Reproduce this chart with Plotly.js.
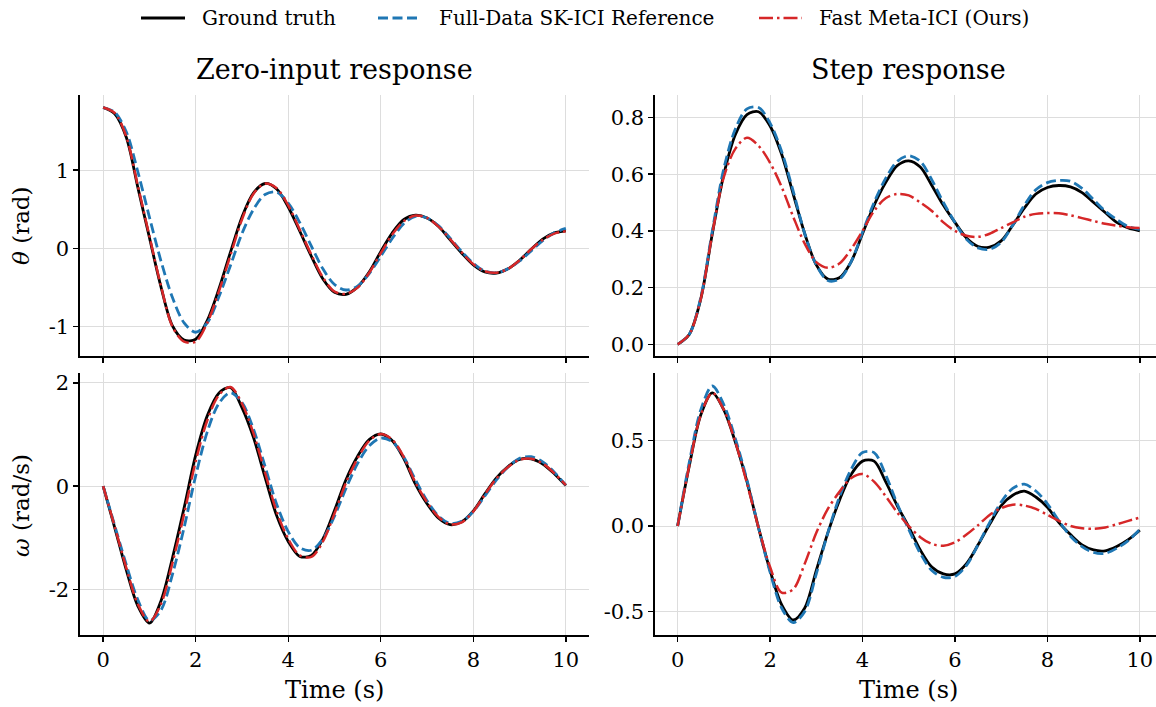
<!DOCTYPE html>
<html>
<head>
<meta charset="utf-8">
<script src="https://cdn.plot.ly/plotly-3.0.1.min.js"></script>
<style>
  html, body { margin: 0; padding: 0; background: #ffffff; }
  #chart { width: 1156px; height: 707px; }
</style>
</head>
<body>
<div id="chart"></div>
<script>
// ---- Data ----
const time = [0,0.25,0.5,0.75,1,1.25,1.5,1.75,2,2.25,2.5,2.75,3,3.25,3.5,3.75,4,4.25,4.5,4.75,5,5.25,5.5,5.75,6,6.25,6.5,6.75,7,7.25,7.5,7.75,8,8.25,8.5,8.75,9,9.25,9.5,9.75,10];

// Zero-input response, theta (rad)
const zeroThetaTruth = [1.80,1.72,1.42,0.78,0.14,-0.49,-0.99,-1.17,-1.16,-0.92,-0.52,-0.05,0.40,0.71,0.83,0.76,0.53,0.22,-0.10,-0.39,-0.56,-0.585,-0.49,-0.30,-0.04,0.20,0.37,0.425,0.39,0.28,0.11,-0.06,-0.21,-0.30,-0.315,-0.26,-0.15,-0.01,0.12,0.20,0.226];
const zeroThetaFull  = [1.80,1.74,1.49,0.98,0.40,-0.16,-0.63,-0.95,-1.07,-0.95,-0.62,-0.22,0.19,0.50,0.69,0.72,0.58,0.33,0.03,-0.26,-0.46,-0.53,-0.48,-0.32,-0.10,0.13,0.32,0.41,0.39,0.29,0.13,-0.04,-0.19,-0.29,-0.31,-0.26,-0.16,-0.03,0.10,0.20,0.256];
const zeroThetaMeta  = [1.80,1.73,1.43,0.80,0.16,-0.48,-1.00,-1.19,-1.19,-0.95,-0.55,-0.09,0.37,0.70,0.83,0.77,0.55,0.24,-0.08,-0.37,-0.55,-0.58,-0.50,-0.31,-0.06,0.18,0.35,0.42,0.39,0.28,0.12,-0.05,-0.20,-0.29,-0.31,-0.26,-0.15,-0.01,0.11,0.19,0.22];

// Zero-input response, omega (rad/s)
const zeroOmegaTruth = [0,-0.80,-1.62,-2.32,-2.65,-2.22,-1.38,-0.42,0.60,1.36,1.80,1.91,1.52,0.94,0.17,-0.57,-1.07,-1.36,-1.34,-1.02,-0.47,0.13,0.58,0.90,1.01,0.88,0.53,0.04,-0.34,-0.62,-0.745,-0.69,-0.48,-0.15,0.16,0.38,0.52,0.53,0.43,0.24,0.01];
const zeroOmegaFull  = [0,-0.76,-1.52,-2.20,-2.60,-2.40,-1.70,-0.80,0.20,1.05,1.60,1.81,1.62,1.10,0.38,-0.35,-0.88,-1.19,-1.24,-1.02,-0.58,-0.04,0.44,0.78,0.93,0.86,0.56,0.12,-0.28,-0.58,-0.72,-0.68,-0.49,-0.19,0.12,0.37,0.54,0.57,0.47,0.27,0.02];
const zeroOmegaMeta  = [0,-0.78,-1.58,-2.28,-2.62,-2.28,-1.48,-0.54,0.48,1.27,1.76,1.92,1.60,1.02,0.26,-0.49,-1.02,-1.34,-1.37,-1.07,-0.53,0.07,0.54,0.88,1.01,0.90,0.56,0.07,-0.31,-0.60,-0.74,-0.70,-0.49,-0.16,0.15,0.37,0.51,0.53,0.44,0.25,0.02];

// Step response, theta (rad)
const stepThetaTruth = [0,0.035,0.16,0.39,0.60,0.74,0.81,0.82,0.77,0.67,0.53,0.39,0.28,0.23,0.235,0.29,0.39,0.49,0.57,0.63,0.647,0.625,0.56,0.49,0.43,0.375,0.345,0.343,0.365,0.42,0.48,0.53,0.553,0.56,0.555,0.535,0.50,0.465,0.43,0.41,0.40];
const stepThetaFull  = [0,0.035,0.165,0.40,0.62,0.76,0.83,0.835,0.78,0.68,0.54,0.39,0.28,0.225,0.23,0.29,0.395,0.50,0.585,0.645,0.665,0.645,0.58,0.50,0.43,0.37,0.34,0.335,0.36,0.42,0.49,0.545,0.57,0.578,0.575,0.55,0.51,0.47,0.44,0.415,0.405];
const stepThetaMeta  = [0,0.035,0.16,0.39,0.59,0.69,0.728,0.70,0.64,0.555,0.45,0.355,0.29,0.27,0.285,0.335,0.40,0.47,0.515,0.53,0.525,0.50,0.47,0.43,0.40,0.383,0.379,0.39,0.41,0.43,0.45,0.46,0.463,0.462,0.455,0.445,0.435,0.425,0.418,0.413,0.41];

// Step response, omega (rad/s)
const stepOmegaTruth = [0,0.35,0.65,0.78,0.68,0.49,0.26,-0.01,-0.26,-0.46,-0.55,-0.48,-0.26,-0.04,0.15,0.30,0.38,0.38,0.26,0.12,-0.005,-0.14,-0.24,-0.28,-0.28,-0.22,-0.11,0.01,0.12,0.18,0.204,0.17,0.11,0.02,-0.05,-0.11,-0.14,-0.145,-0.12,-0.08,-0.025];
const stepOmegaFull  = [0,0.37,0.68,0.82,0.71,0.51,0.27,-0.01,-0.27,-0.48,-0.565,-0.50,-0.28,-0.04,0.17,0.33,0.43,0.43,0.30,0.13,-0.02,-0.16,-0.26,-0.30,-0.295,-0.23,-0.11,0.02,0.14,0.22,0.245,0.205,0.13,0.03,-0.06,-0.12,-0.155,-0.16,-0.13,-0.085,-0.02];
const stepOmegaMeta  = [0,0.35,0.65,0.78,0.68,0.49,0.25,-0.01,-0.24,-0.39,-0.37,-0.22,-0.04,0.10,0.20,0.28,0.305,0.26,0.175,0.08,0,-0.065,-0.105,-0.115,-0.095,-0.05,0.005,0.065,0.105,0.125,0.12,0.10,0.065,0.03,0,-0.013,-0.016,-0.008,0.01,0.03,0.05];

// Labels
const seriesNames = ['Ground truth', 'Full-Data SK-ICI Reference', 'Fast Meta-ICI (Ours)'];
const panelTitles = ['Zero-input response', 'Step response'];
const yTitles = ['<i>θ</i> (rad)', '<i>ω</i> (rad/s)'];
const xTitle = 'Time (s)';
const xTickVals = [0,2,4,6,8,10];
const xTickText = ['0','2','4','6','8','10'];
const yTickValsTL = [-1,0,1];      const yTickTextTL = ['-1','0','1'];
const yTickValsBL = [-2,0,2];      const yTickTextBL = ['-2','0','2'];
const yTickValsTR = [0,0.2,0.4,0.6,0.8]; const yTickTextTR = ['0.0','0.2','0.4','0.6','0.8'];
const yTickValsBR = [-0.5,0,0.5];  const yTickTextBR = ['-0.5','0.0','0.5'];

// ---- Styles ----
const FONT = 'DejaVu Serif, Liberation Serif, serif';
const styles = [
  {color: '#000000', width: 2.8, dash: 'solid'},
  {color: '#1f77b4', width: 2.8, dash: '10px,4.5px'},
  {color: '#d62728', width: 2.5, dash: '14px,4px,2.5px,4px'}
];

const panels = [
  {x: 'x',  y: 'y',  data: [zeroThetaTruth, zeroThetaFull, zeroThetaMeta]},
  {x: 'x2', y: 'y2', data: [stepThetaTruth, stepThetaFull, stepThetaMeta]},
  {x: 'x3', y: 'y3', data: [zeroOmegaTruth, zeroOmegaFull, zeroOmegaMeta]},
  {x: 'x4', y: 'y4', data: [stepOmegaTruth, stepOmegaFull, stepOmegaMeta]}
];

const traces = [];
panels.forEach(p => {
  p.data.forEach((vals, i) => {
    traces.push({
      type: 'scatter', mode: 'lines',
      x: time, y: vals,
      xaxis: p.x, yaxis: p.y,
      name: seriesNames[i],
      legendgroup: 'g' + i,
      showlegend: false,
      line: {color: styles[i].color, width: styles[i].width, dash: styles[i].dash, shape: 'spline', smoothing: 0.9}
    });
  });
});

function axisBase(extra) {
  return Object.assign({
    showline: true, linecolor: '#000000', linewidth: 1.6,
    ticks: 'outside', ticklen: 5, tickwidth: 1.4, tickcolor: '#000000',
    showgrid: true, gridcolor: '#dddddd', gridwidth: 1,
    zeroline: false, mirror: false,
    tickfont: {family: FONT, size: 21, color: '#000000'},
    tickmode: 'array', fixedrange: true
  }, extra);
}

const W = 1156, H = 707;
const leftDom = [80 / W, 589 / W];
const rightDom = [655 / W, 1];
const topDom = [1 - 356 / H, 1 - 95 / H];
const botDom = [1 - 635 / H, 1 - 373 / H];

// Legend (drawn as line samples + text at the top of the figure)
const legendY = 1 - 18 / H;
const legendItems = [
  {x0: 141, x1: 185, tx: 200},
  {x0: 378, x1: 421, tx: 437},
  {x0: 759, x1: 802, tx: 817}
];
const legendShapes = legendItems.map((it, i) => ({
  type: 'line', xref: 'paper', yref: 'paper',
  x0: it.x0 / W, x1: it.x1 / W, y0: legendY, y1: legendY,
  line: {color: styles[i].color, width: styles[i].width, dash: styles[i].dash}
}));
const legendTexts = legendItems.map((it, i) => ({
  text: seriesNames[i], x: it.tx / W, y: legendY, xref: 'paper', yref: 'paper',
  xanchor: 'left', yanchor: 'middle', showarrow: false,
  font: {family: FONT, size: 20, color: '#000000'}
}));

const layout = {
  width: W, height: H,
  margin: {l: 0, r: 0, t: 0, b: 0, pad: 0},
  paper_bgcolor: '#ffffff', plot_bgcolor: '#ffffff',
  font: {family: FONT, color: '#000000'},
  showlegend: false,
  xaxis:  axisBase({domain: leftDom,  anchor: 'y',  range: [-0.5, 10.5],  tickvals: xTickVals, ticktext: xTickText, showticklabels: false}),
  yaxis:  axisBase({domain: topDom,   anchor: 'x',  range: [-1.373, 1.96], tickvals: yTickValsTL, ticktext: yTickTextTL}),
  xaxis2: axisBase({domain: rightDom, anchor: 'y2', range: [-0.49, 10.35], tickvals: xTickVals, ticktext: xTickText, showticklabels: false}),
  yaxis2: axisBase({domain: topDom,   anchor: 'x2', range: [-0.041, 0.879], tickvals: yTickValsTR, ticktext: yTickTextTR}),
  xaxis3: axisBase({domain: leftDom,  anchor: 'y3', range: [-0.5, 10.5],  tickvals: xTickVals, ticktext: xTickText}),
  yaxis3: axisBase({domain: botDom,   anchor: 'x3', range: [-2.88, 2.19], tickvals: yTickValsBL, ticktext: yTickTextBL}),
  xaxis4: axisBase({domain: rightDom, anchor: 'y4', range: [-0.49, 10.35], tickvals: xTickVals, ticktext: xTickText}),
  yaxis4: axisBase({domain: botDom,   anchor: 'x4', range: [-0.638, 0.896], tickvals: yTickValsBR, ticktext: yTickTextBR}),
  shapes: legendShapes,
  annotations: legendTexts.concat([
    {text: panelTitles[0], x: 334 / W, y: 1 - 70 / H, xref: 'paper', yref: 'paper', xanchor: 'center', yanchor: 'middle', showarrow: false, font: {family: FONT, size: 27}},
    {text: panelTitles[1], x: 908 / W, y: 1 - 70 / H, xref: 'paper', yref: 'paper', xanchor: 'center', yanchor: 'middle', showarrow: false, font: {family: FONT, size: 27}},
    {text: yTitles[0], x: 21 / W, y: 1 - 226 / H, xref: 'paper', yref: 'paper', xanchor: 'center', yanchor: 'middle', textangle: -90, showarrow: false, font: {family: FONT, size: 23}},
    {text: yTitles[1], x: 21 / W, y: 1 - 506 / H, xref: 'paper', yref: 'paper', xanchor: 'center', yanchor: 'middle', textangle: -90, showarrow: false, font: {family: FONT, size: 23}},
    {text: xTitle, x: 334 / W, y: 1 - 690 / H, xref: 'paper', yref: 'paper', xanchor: 'center', yanchor: 'middle', showarrow: false, font: {family: FONT, size: 24}},
    {text: xTitle, x: 908 / W, y: 1 - 690 / H, xref: 'paper', yref: 'paper', xanchor: 'center', yanchor: 'middle', showarrow: false, font: {family: FONT, size: 24}}
  ])
};

Plotly.newPlot('chart', traces, layout, {staticPlot: true, displayModeBar: false, responsive: false});
</script>
</body>
</html>
